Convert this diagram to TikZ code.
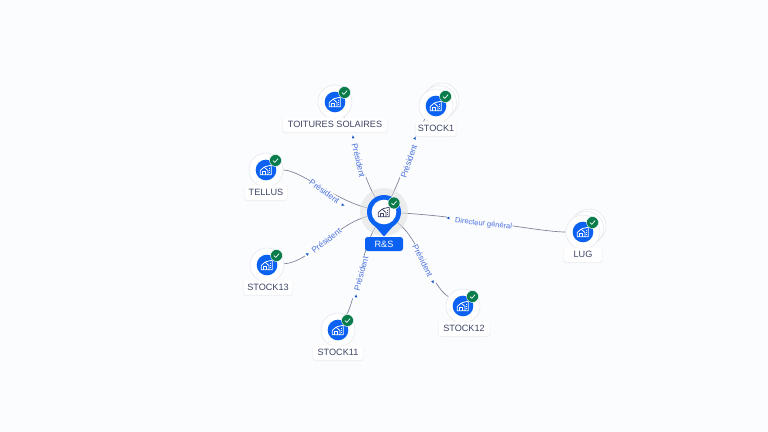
\documentclass[tikz,border=0pt]{standalone}
\usepackage{fontspec}
\setmainfont{Liberation Sans}
\pgfdeclarelayer{lines}
\pgfsetlayers{lines,main}
\definecolor{pagebg}{HTML}{FBFCFE}
\definecolor{mainblue}{HTML}{0B62F2}
\definecolor{okgreen}{HTML}{0A7C4C}
\definecolor{inktext}{HTML}{3F4566}
\definecolor{linkblue}{HTML}{4A70DC}
\definecolor{linkgrey}{HTML}{7A8098}
\definecolor{ringgrey}{HTML}{E6E8EF}
\tikzset{
  x=0.75pt,y=-0.75pt,
  disc/.style={circle,draw=ringgrey,line width=0.45pt,fill=white,minimum size=25.5pt,inner sep=0pt},
  bluedisc/.style={circle,fill=mainblue,minimum size=15.5pt,inner sep=0pt},
  okmark/.style={circle,fill=okgreen,draw=white,line width=0.3pt,minimum size=9pt,inner sep=0pt},
  tagbox/.style={rectangle,rounded corners=2pt,fill=white,inner sep=0pt,minimum height=11pt,
     font=\fontsize{6.85}{8}\selectfont,text=inktext},
  tagshadow/.style={rectangle,rounded corners=2pt,fill=black!30,opacity=0.14,inner sep=0pt,minimum height=11.6pt},
  linkline/.style={draw=linkgrey,line width=0.5pt},
  linktext/.style={fill=pagebg,inner sep=0.4pt,font=\fontsize{6.2}{7}\selectfont,text=linkblue},
  tipmark/.style={fill=mainblue!80!black},
  iconline/.style={line width=0.6pt,line join=round}
}
\newcommand{\houseicon}[3]{%
  \begin{scope}[shift={(#1,#2)},scale=0.95]
    \draw[iconline,#3] (-6,5) -- (-6,0.5) -- (-2,-3) -- (2,0.5) -- (2,5) -- cycle;
    \draw[iconline,#3] (-3.4,5) -- (-3.4,1.8) -- (-0.6,1.8) -- (-0.6,5);
    \draw[iconline,#3] (-1.5,-3.4) -- (5.5,-5) -- (5.5,5) -- (2,5);
    \draw[iconline,#3] (3,-1.8) -- (4.5,-1.8) (3,0.6) -- (4.5,0.6) (3,3) -- (4.5,3);
  \end{scope}}
\newcommand{\okbadge}[3]{%
  \node[okmark] (#1) at (#2,#3) {};
  \draw[white,line width=0.5pt,line cap=round,line join=round]
    ([shift={(-2.4,0.2)}]#1.center) -- ([shift={(-0.7,1.9)}]#1.center) -- ([shift={(2.5,-1.8)}]#1.center);}
% name, x, y, text, tag width, tag x
\newcommand{\entity}[6]{%
  \node[disc] (#1) at (#2,#3) {};
  \node[bluedisc] (#1-in) at (#2,#3) {};
  \houseicon{#2}{#3}{white}
  \okbadge{#1-ok}{#2+9.5}{#3-9.5}
  \node[tagshadow,minimum width=#5*0.75pt+0.8pt] (#1-s) at (#6,#3+23.4) {};
  \node[tagbox,minimum width=#5*0.75pt] (#1-tag) at (#6,#3+22.6) {#4};}
\newcommand{\stacked}[2]{%
  \node[disc] at (#1+6,#2-6) {};
  \node[disc] at (#1+3.5,#2-3.5) {};}
\newcommand{\tipat}[3]{\fill[tipmark,shift={(#1,#2)},rotate=#3] (1.6,0) -- (-1.3,1.3) -- (-1.3,-1.3) -- cycle;}
\begin{document}
\begin{tikzpicture}
\begin{pgfonlayer}{lines}
  \fill[pagebg] (0,0) rectangle (768,432);
\end{pgfonlayer}
\useasboundingbox (0,0) rectangle (768,432);

% central node
\fill[black!12,opacity=0.55] (384,212) circle[radius=24];
\node[circle,fill=mainblue,minimum size=25.5pt,inner sep=0pt] (rs) at (384,212) {};
\fill[mainblue] (369.5,220) -- (384,236.5) -- (398.5,220) -- cycle;
\node[circle,fill=white,minimum size=18.5pt,inner sep=0pt] (rs-in) at (384,212) {};
\houseicon{384}{212}{inktext}
\okbadge{rs-ok}{394}{203}
\node[tagbox,fill=mainblue,text=white,minimum width=28.5pt,minimum height=10.5pt] (rs-tag) at (384,244) {R\&S};

% entities
\stacked{436}{106}
\entity{stockA}{436}{106}{STOCK1}{41}{436}
\entity{toit}{335}{102}{TOITURES SOLAIRES}{104}{335}
\entity{tellus}{266}{170}{TELLUS}{42}{266}
\entity{stockM}{267}{265}{STOCK13}{48}{268}
\entity{stockK}{338}{330}{STOCK11}{50}{338}
\entity{stockL}{463}{306}{STOCK12}{51}{464}
\stacked{583}{232}
\entity{lug}{583}{232}{LUG}{38}{583}

\begin{pgfonlayer}{lines}
  \draw[linkline] (toit) .. controls (352,130) and (362,175) .. (rs);
  \draw[linkline] (stockA) .. controls (420,125) and (402,175) .. (rs);
  \draw[linkline] (tellus) .. controls (300,170) and (335,200) .. (rs);
  \draw[linkline] (stockM) .. controls (310,262) and (335,225) .. (rs);
  \draw[linkline] (stockK) .. controls (355,300) and (362,250) .. (rs);
  \draw[linkline] (stockL) .. controls (430,285) and (420,240) .. (rs);
  \draw[linkline] (lug) .. controls (540,232) and (470,217) .. (rs);
  \node[linktext,rotate=-77] (pa) at (357.1,154) {\hspace*{10pt}Président};
  \node[linktext,rotate=71] (pb) at (410.6,156.4) {Président\hspace*{8pt}};
  \node[linktext,rotate=-36] (pc) at (327.8,194) {Président\hspace*{6pt}};
  \node[linktext,rotate=37] (pd) at (323.2,243) {\hspace*{6pt}Président};
  \node[linktext,rotate=75] (pe) at (360.1,277.4) {\hspace*{6pt}Président};
  \node[linktext,rotate=-63] (pf) at (424.6,264.1) {Président\hspace*{6pt}};
  \node[linktext,rotate=-6,font=\fontsize{5.6}{7}\selectfont] (pg) at (479.5,223.6) {\hspace*{6pt}Directeur général};
\end{pgfonlayer}

\tipat{353}{137}{100}
\tipat{415}{138}{70}
\tipat{343}{205}{-20}
\tipat{307}{254}{150}
\tipat{356}{296}{85}
\tipat{433}{282}{-60}
\tipat{448}{218}{180}
\end{tikzpicture}
\end{document}
